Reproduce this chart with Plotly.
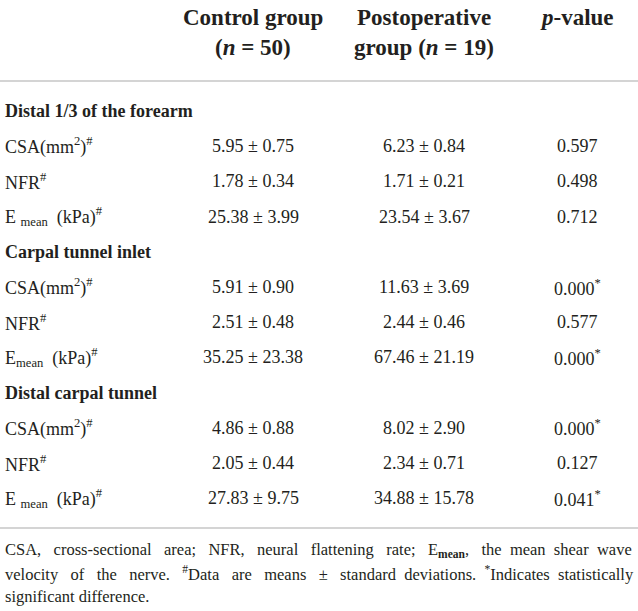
import plotly.graph_objects as go

# table content
sections = ["Distal 1/3 of the forearm", "Carpal tunnel inlet", "Distal carpal tunnel"]
measureLabels = [
    ["CSA(mm<sup>2</sup>)<sup>#</sup>", "NFR<sup>#</sup>", "E <sub>mean</sub>  (kPa)<sup>#</sup>"],
    ["CSA(mm<sup>2</sup>)<sup>#</sup>", "NFR<sup>#</sup>", "E<sub>mean</sub>  (kPa)<sup>#</sup>"],
    ["CSA(mm<sup>2</sup>)<sup>#</sup>", "NFR<sup>#</sup>", "E <sub>mean</sub>  (kPa)<sup>#</sup>"],
]
controlMean = [5.95, 1.78, 25.38, 5.91, 2.51, 35.25, 4.86, 2.05, 27.83]
controlSd = [0.75, 0.34, 3.99, 0.90, 0.48, 23.38, 0.88, 0.44, 9.75]
postopMean = [6.23, 1.71, 23.54, 11.63, 2.44, 67.46, 8.02, 2.34, 34.88]
postopSd = [0.84, 0.21, 3.67, 3.69, 0.46, 21.19, 2.90, 0.71, 15.78]
pValues = [0.597, 0.498, 0.712, 0.000, 0.577, 0.000, 0.000, 0.127, 0.041]

headerLines = [
    ["<b>Control group</b>", "<b>Postoperative</b>", "<b><i>p</i>-value</b>"],
    ["<b>(<i>n</i> = 50)</b>", "<b>group (<i>n</i> = 19)</b>", ""],
]
footnoteLines = [
    "CSA, cross-sectional area; NFR, neural flattening rate; E<sub><b>mean</b></sub>, the mean shear wave",
    "velocity of the nerve. <sup>#</sup>Data are means \u00b1 standard deviations. <sup>*</sup>Indicates statistically",
    "significant difference.",
]
# extra spaces to fake the justified paragraph
footnotePad = [19, 19, 0]

W, H = 638, 611
FONT = "Liberation Serif"
TEXT = "#231f20"
RULE = "#c6c6c6"

colCenters = [253, 424, 577]
labelX = 3
firstRowY = 111
rowStep = 35.2
headerY = [17, 47]
ruleY = [81, 528]
footY = [550, 573, 596]


def justify(line, pad):
    words = line.split(" ")
    gaps = len(words) - 1
    if pad == 0 or gaps == 0:
        return line
    out = words[0]
    for g in range(gaps):
        n = 1 + pad // gaps + (1 if g < pad % gaps else 0)
        out += " " * n + words[g + 1]
    return out


fig = go.Figure()
annotations = []

def addText(x, y, text, size, anchor="center"):
    annotations.append(dict(x=x, y=y, xref="x", yref="y", text=text, showarrow=False,
                            xanchor=anchor, yanchor="middle",
                            font=dict(family=FONT, size=size, color=TEXT)))

for lineIdx, line in enumerate(headerLines):
    for colIdx, txt in enumerate(line):
        if txt:
            addText(colCenters[colIdx], headerY[lineIdx], txt, 23)

row = 0
for s, sectionName in enumerate(sections):
    addText(labelX, firstRowY + row * rowStep, f"<b>{sectionName}</b>", 18, "left")
    row += 1
    for m, label in enumerate(measureLabels[s]):
        i = s * 3 + m
        y = firstRowY + row * rowStep
        addText(labelX, y, label, 18, "left")
        addText(colCenters[0], y, f"{controlMean[i]:.2f} \u00b1 {controlSd[i]:.2f}", 18)
        addText(colCenters[1], y, f"{postopMean[i]:.2f} \u00b1 {postopSd[i]:.2f}", 18)
        star = "<sup>*</sup>" if pValues[i] < 0.05 else ""
        addText(colCenters[2], y, f"{pValues[i]:.3f}{star}", 18)
        row += 1

for k, line in enumerate(footnoteLines):
    addText(labelX, footY[k], justify(line, footnotePad[k]), 16.5, "left")

for y in ruleY:
    fig.add_shape(type="line", x0=0, x1=W, y0=y, y1=y, xref="x", yref="y",
                  line=dict(color=RULE, width=1.5))

fig.update_layout(
    width=W, height=H,
    margin=dict(l=0, r=0, t=0, b=0),
    paper_bgcolor="white", plot_bgcolor="white",
    xaxis=dict(range=[0, W], visible=False, fixedrange=True),
    yaxis=dict(range=[H, 0], visible=False, fixedrange=True),
    annotations=annotations,
    showlegend=False,
)

# drop the page's default body margin so the figure sits at the window corner
fig.write_html("out.html", config={"displayModeBar": False},
               post_script="document.body.style.margin='0';document.body.style.overflow='hidden';")
